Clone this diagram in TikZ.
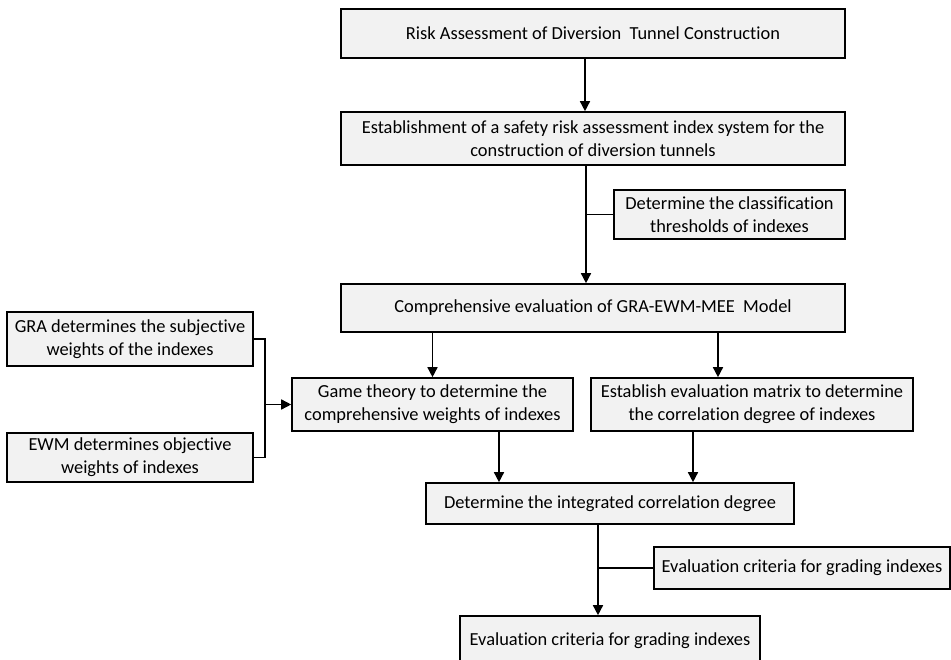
\documentclass[tikz,border=0pt]{standalone}
\usepackage{fontspec}
\setmainfont{Carlito}[Ligatures=NoCommon]
\usetikzlibrary{arrows.meta,calc}
\definecolor{boxgray}{RGB}{242,242,242}
\tikzset{
  box/.style={draw=black, line width=1.6pt, fill=boxgray, align=center, inner sep=0pt,
    font=\fontsize{18.4}{22.7}\selectfont},
  link/.style={line width=1.5pt, -{Triangle[length=10pt,width=10pt]}},
  bar/.style={line width=1.5pt},
}

\begin{document}
\begin{tikzpicture}[x=1pt,y=-1pt]
    %% Frame
    \useasboundingbox (0,0) rectangle (951,660);

    %% Main column
    \node[box, minimum width=504pt, minimum height=49pt] (risk) at (593,33.5)
      {Risk Assessment of Diversion\ \ Tunnel Construction};
    \node[box, minimum width=504pt, minimum height=53pt] (index) at (593,138.5)
      {Establishment of a safety risk assessment index system for the\\construction of diversion tunnels};
    \node[box, minimum width=231pt, minimum height=49pt] (thresh) at (729.5,214.5)
      {Determine the classification\\thresholds of indexes};
    \node[box, minimum width=504pt, minimum height=48pt] (comp) at (593,308)
      {Comprehensive evaluation of GRA-EWM-MEE\ \ Model};

    %% Weights
    \node[box, minimum width=246pt, minimum height=54pt] (gra) at (130,339)
      {GRA determines the subjective\\weights of the indexes};
    \node[box, minimum width=246pt, minimum height=49pt] (ewm) at (130,457.5)
      {EWM determines objective\\weights of indexes};
    \node[box, minimum width=281pt, minimum height=53pt] (game) at (432.5,404.5)
      {Game theory to determine the\\comprehensive weights of indexes};
    \node[box, minimum width=322pt, minimum height=53pt] (matrix) at (752,404.5)
      {Establish evaluation matrix to determine\\the correlation degree of indexes};

    %% Lower part
    \node[box, minimum width=368pt, minimum height=41pt] (integ) at (610,503.5)
      {Determine the integrated correlation degree};
    \node[box, minimum width=296pt, minimum height=42pt] (crit) at (802,568)
      {Evaluation criteria for grading indexes};
    \node[box, minimum width=300pt, minimum height=49pt] (final) at (610,640.5)
      {Evaluation criteria for grading indexes};

    %% Connectors
    \draw[link] ([xshift=-8pt]risk.south) -- ([xshift=-8pt]index.north);
    \coordinate (spine) at ([xshift=-7pt]comp.north);
    \draw[link] (spine |- index.south) -- (spine);
    \draw[bar] (thresh.west) -- (thresh.west -| spine);

    \draw[link] (comp.south -| game.north) -- (game.north);
    \coordinate (mtop) at ([xshift=-34pt]matrix.north);
    \draw[link] (mtop |- comp.south) -- (mtop);

    \coordinate (join) at ($(gra.east)+(11,0)$);
    \draw[bar] (gra.east) -- (join) -- (join |- ewm.east) -- (ewm.east);
    \draw[link] (join |- game.west) -- (game.west);

    \coordinate (gbot) at ([xshift=66.5pt]game.south);
    \draw[link] (gbot) -- (gbot |- integ.north);
    \coordinate (mbot) at ([xshift=-59pt]matrix.south);
    \draw[link] (mbot) -- (mbot |- integ.north);

    \coordinate (low) at ([xshift=-12pt]final.north);
    \draw[link] (low |- integ.south) -- (low);
    \draw[bar] (crit.west) -- (crit.west -| low);
\end{tikzpicture}
\end{document}
